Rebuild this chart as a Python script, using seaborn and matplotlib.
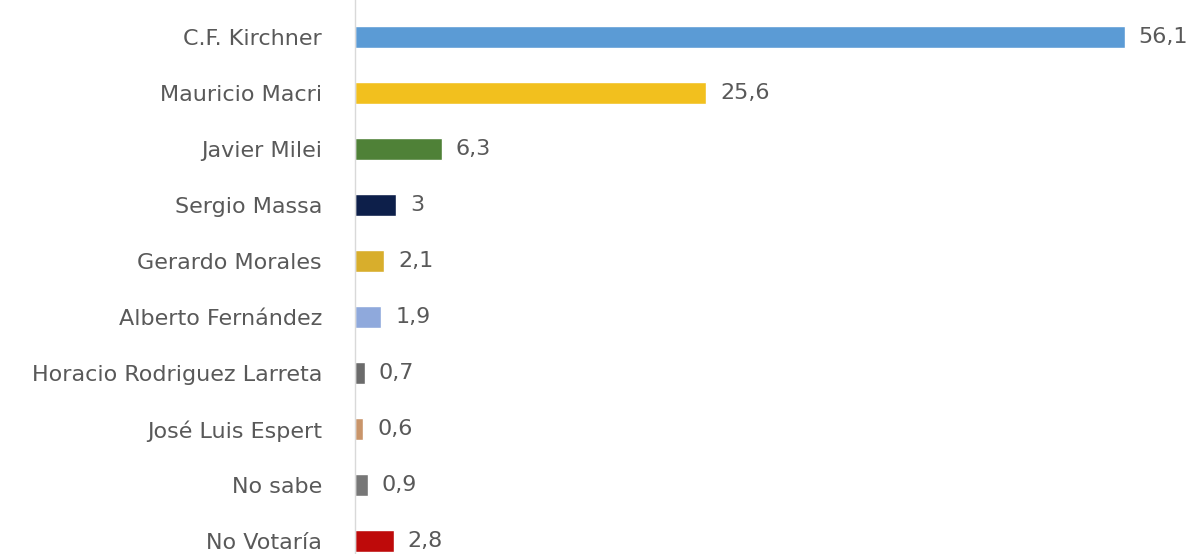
import matplotlib
matplotlib.use("Agg")
import matplotlib.pyplot as plt
import seaborn as sns
import pandas as pd

# --- datos ---
candidatos = ["C.F. Kirchner", "Mauricio Macri", "Javier Milei", "Sergio Massa",
              "Gerardo Morales", "Alberto Fernández", "Horacio Rodriguez Larreta",
              "José Luis Espert", "No sabe", "No Votaría"]
porcentajes = [56.1, 25.6, 6.3, 3, 2.1, 1.9, 0.7, 0.6, 0.9, 2.8]
etiquetas = ["56,1", "25,6", "6,3", "3", "2,1", "1,9", "0,7", "0,6", "0,9", "2,8"]
colores = ["#5B9BD5", "#F2C01E", "#4F8137", "#0D1F4A", "#D8AE2C",
           "#8FA9DC", "#6B6B6B", "#C9956A", "#777777", "#BE0A0A"]

df = pd.DataFrame({"candidato": candidatos, "pct": porcentajes})

sns.set_style("white")
plt.rcParams["font.family"] = ["DejaVu Sans"]

fig = plt.figure(figsize=(11.96, 5.54), dpi=100)
ax = fig.add_axes([0.297, 0.0, 0.703, 1.0])

sns.barplot(data=df, x="pct", y="candidato", hue="candidato", palette=colores,
            legend=False, width=0.38, ax=ax, saturation=1)

# etiquetas de valor con coma decimal
for cont, lab in zip(ax.containers, etiquetas):
    ax.bar_label(cont, labels=[lab], padding=10, fontsize=16, color="#595959")

ax.set_xlim(0, 61.3)
ax.set_ylim(9.23, -0.66)
ax.set_xlabel("")
ax.set_ylabel("")
ax.set_xticks([])
ax.tick_params(axis="y", length=0, pad=24, labelsize=16, labelcolor="#595959")

for s in ["top", "right", "bottom"]:
    ax.spines[s].set_visible(False)
ax.spines["left"].set_color("#D9D9D9")
ax.spines["left"].set_linewidth(1)

fig.savefig("out.png", dpi=100, facecolor="white")
